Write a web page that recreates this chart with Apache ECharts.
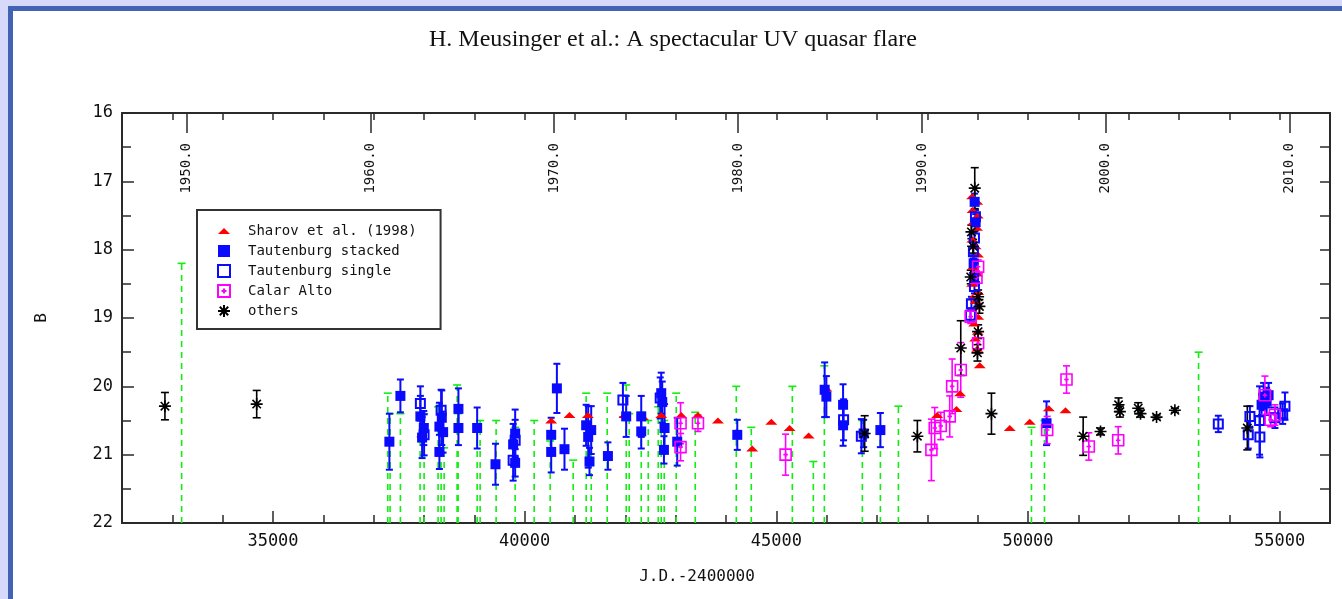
<!DOCTYPE html>
<html><head><meta charset="utf-8">
<script src="https://cdn.jsdelivr.net/npm/echarts@6/dist/echarts.min.js"></script>
<style>html,body{margin:0;padding:0;background:#d7d9fa;overflow:hidden}#c{width:1342px;height:599px}</style>
</head><body><div id="c"></div>
<script>
// ---------- data ----------
const jdMajorLabels = [35000, 40000, 45000, 50000, 55000];
const yearLabels = [1950, 1960, 1970, 1980, 1990, 2000, 2010];

const limitJD = [33185,37280,37326,37531,37922,38002,38280,38340,38400,38658,38678,39056,39115,39433,39811,40189,40507,40964,41222,41322,41640,42018,42077,42316,42455,42654,42713,42773,43011,43389,44204,44502,45318,45735,45954,46709,47067,47425,50069,50327,53389];
const limitB  = [18.2,20.1,20.4,20.4,20.5,20.4,20.3,20.5,20.9,19.98,20.4,20.6,20.5,20.5,20.6,20.5,20.8,21.08,20.1,20.6,20.1,19.98,20.4,20.38,20.5,20.3,20.4,20.5,20.1,20.38,20.0,20.6,20.0,21.1,19.7,20.5,20.6,20.29,20.6,20.5,19.5];

const sharovJD = [40527,40891,41256,41984,42349,42713,43111,43443,43840,44520,44900,45264,45642,45994,48195,48578,48650,49041,49638,50035,50413,50745,
  48890,48990,48900,49000,48910,48985,48895,48960,49005,48905,48990,48890,49010,48900,48985,49010,48930,49000,48960,48950,48990];
const sharovB = [20.5,20.42,20.42,20.42,20.45,20.42,20.42,20.42,20.5,20.91,20.52,20.61,20.72,20.03,20.42,20.33,20.1,19.69,20.61,20.52,20.32,20.35,
  17.22,17.3,17.42,17.5,17.6,17.68,17.85,17.95,18.07,18.25,18.35,18.5,18.62,18.7,18.83,18.98,19.08,19.2,18.75,19.3,19.45];

const stackedJD = [37312,37531,37928,37996,37962,38306,38306,38354,38380,38684,38684,39056,39420,39811,39811,39771,40527,40527,40640,40791,41222,41322,41288,41262,41654,42017,42316,42316,42713,42779,42767,42733,43031,44224,45960,45994,46326,46326,46735,47067,50368,48940,48960,48920,48930,54681,54741,54641,54780];
const stackedB  = [20.81,20.14,20.44,20.61,20.75,20.59,20.96,20.46,20.67,20.33,20.61,20.61,21.14,20.69,21.12,20.85,20.71,20.96,20.03,20.92,20.57,20.64,21.1,20.74,21.02,20.44,20.44,20.66,20.1,20.61,20.93,20.23,20.81,20.71,20.05,20.15,20.27,20.57,20.69,20.64,20.54,17.3,17.6,18.2,18.4,20.15,20.22,20.27,20.13];
const stackedErr= [0.41,0.24,0.3,0.25,0.3,0.35,0.25,0.4,0.3,0.3,0.25,0.3,0.3,0.35,0.2,0.3,0.25,0.3,0.36,0.3,0.3,0.35,0.2,0.45,0.2,0.3,0.3,0.25,0.3,0.35,0.2,0.3,0.35,0.22,0.4,0.3,0.3,0.3,0.2,0.25,0.32,0.12,0.12,0.12,0.12,0.2,0.2,0.15,0.18];

const singleJD = [37928,38002,38340,39771,39811,41952,42693,46336,46689,48956,48936,48916,48936,48876,48856,53781,54409,54376,54607,54601,54906,55105,55060];
const singleB  = [20.25,20.71,20.35,21.08,20.79,20.2,20.17,20.49,20.73,17.52,17.83,18.03,18.54,18.79,18.96,20.55,20.44,20.71,20.74,20.5,20.46,20.29,20.4];
const singleErr= [0.25,0.3,0.3,0.3,0.3,0.25,0.3,0.3,0.25,0.1,0.1,0.1,0.1,0.1,0.1,0.12,0.15,0.2,0.3,0.5,0.15,0.2,0.15];

const calarJD = [43097,43097,43443,45184,48081,48147,48266,48445,48493,48664,49009,48862,49009,48976,50381,50765,51208,51792,54707,54906,54820];
const calarB  = [20.54,20.89,20.54,21.0,20.93,20.61,20.58,20.44,20.0,19.76,19.37,18.98,18.25,18.41,20.64,19.9,20.88,20.79,20.13,20.42,20.49];
const calarErr= [0.3,0.2,0.12,0.3,0.45,0.3,0.2,0.3,0.4,0.4,0.15,0.1,0.1,0.1,0.2,0.2,0.2,0.2,0.28,0.15,0.1];

const othersJD = [32853,34676,46755,47802,48664,49274,48996,48942,48876,48862,49009,49035,49009,48909,51096,51441,51825,51799,52190,52235,52554,52918,54357];
const othersB  = [20.29,20.26,20.69,20.73,19.44,20.4,19.51,17.1,17.74,18.4,18.69,18.83,19.2,17.95,20.73,20.66,20.37,20.27,20.32,20.4,20.45,20.35,20.61];
const othersErr= [0.2,0.2,0.26,0.23,0.4,0.3,0.12,0.3,0.1,0.1,0.1,0.1,0.1,0.1,0.28,0.05,0.08,0.1,0.08,0.05,0.03,0.03,0.32];

// ---------- helpers ----------
const MONO = 'DejaVu Sans Mono';
const BLUE = '#0a0aff', RED = '#ff0000', MAG = '#ff00ff', GREEN = '#11ee11', BLK = '#000000';
const yearJD = yearLabels.map(y => 33282.5 + (y - 1950) * 365.25);
const zip3 = (a, b, c) => a.map((v, i) => [v, b[i], c ? c[i] : 0]);

function errRender(color, lw, cap) {
  return function (params, api) {
    const x = api.value(0), y = api.value(1), e = api.value(2);
    const a = api.coord([x, y - e]), b = api.coord([x, y + e]);
    const st = { stroke: color, lineWidth: lw };
    return { type: 'group', children: [
      { type: 'line', shape: { x1: a[0], y1: a[1], x2: b[0], y2: b[1] }, style: st },
      { type: 'line', shape: { x1: a[0] - cap, y1: a[1], x2: a[0] + cap, y2: a[1] }, style: st },
      { type: 'line', shape: { x1: b[0] - cap, y1: b[1], x2: b[0] + cap, y2: b[1] }, style: st }
    ]};
  };
}
function limitRender(params, api) {
  const x = api.value(0), v = api.value(1);
  const t = api.coord([x, v]), b = api.coord([x, 22]);
  return { type: 'group', children: [
    { type: 'line', shape: { x1: b[0], y1: b[1], x2: t[0], y2: t[1] }, style: { stroke: GREEN, lineWidth: 1.6, lineDash: [6, 5] } },
    { type: 'line', shape: { x1: t[0] - 4, y1: t[1], x2: t[0] + 4, y2: t[1] }, style: { stroke: GREEN, lineWidth: 1.6 } }
  ]};
}
function errSeries(name, data, color, lw, cap) {
  return { type: 'custom', name: name, renderItem: errRender(color, lw, cap), data: data, clip: true, silent: true };
}

const triPath = 'path://M0,6 L6,0 L12,6 Z';
const starPath = 'path://M6,0 L6,12 M0,6 L12,6 M1.8,1.8 L10.2,10.2 M1.8,10.2 L10.2,1.8';
const calarPath = 'path://M0,0 L12,0 L12,12 L0,12 Z M3.5,6 L8.5,6 M6,3.5 L6,8.5';

const axisLineStyle = { color: '#2a2a2a', width: 2 };
const tickStyle = { color: '#2a2a2a', width: 1.5 };

const chart = echarts.init(document.getElementById('c'), null, { renderer: 'canvas' });
chart.setOption({
  animation: false,
  backgroundColor: '#d7d9fa',
  graphic: [
    { type: 'rect', z: -10, shape: { x: 8, y: 6, width: 1400, height: 700 }, style: { fill: '#4262b4' } },
    { type: 'rect', z: -9, shape: { x: 13, y: 11, width: 1400, height: 700 }, style: { fill: '#ffffff' } }
  ],
  title: {
    text: 'H. Meusinger et al.: A spectacular UV quasar flare',
    left: 424, top: 23,
    textStyle: { fontFamily: 'Liberation Serif', fontWeight: 'normal', fontSize: 24, color: '#111' }
  },
  legend: {
    orient: 'vertical', left: 197, top: 210,
    borderColor: '#333', borderWidth: 2, backgroundColor: '#fff',
    padding: [14, 24, 11, 20], itemGap: 6, itemWidth: 12, itemHeight: 12,
    textStyle: { fontFamily: MONO, fontSize: 14, lineHeight: 14, color: '#111', padding: [0, 0, 0, 13] },
    selectedMode: false,
    data: ['Sharov et al. (1998)', 'Tautenburg stacked', 'Tautenburg single', 'Calar Alto', 'others']
  },
  grid: { left: 122, right: 12, top: 113, bottom: 76 },
  xAxis: [
    { type: 'value', position: 'bottom', min: 32000, max: 56000, interval: 1000,
      name: 'J.D.-2400000', nameLocation: 'middle', nameGap: 46,
      nameTextStyle: { fontFamily: MONO, fontSize: 16, color: '#111', padding: [0, 58, 0, 0] },
      axisLine: { lineStyle: axisLineStyle }, splitLine: { show: false },
      axisTick: { inside: true, length: 8, lineStyle: tickStyle },
      axisLabel: { customValues: jdMajorLabels, formatter: v => String(v), fontFamily: MONO, fontSize: 17, color: '#111', margin: 10 } },
    { type: 'value', position: 'bottom', min: 32000, max: 56000, interval: 1000,
      axisLine: { show: false }, splitLine: { show: false },
      axisTick: { inside: true, length: 12, customValues: jdMajorLabels, lineStyle: tickStyle },
      axisLabel: { show: false } },
    { type: 'value', position: 'top', min: 32000, max: 56000, interval: 1000,
      axisLine: { lineStyle: axisLineStyle }, splitLine: { show: false },
      axisTick: { inside: true, length: 7, lineStyle: tickStyle },
      axisLabel: { show: false } },
    { type: 'value', position: 'top', min: 32000, max: 56000, interval: 1000,
      axisLine: { show: false }, splitLine: { show: false },
      axisTick: { inside: true, length: 20, customValues: yearJD, lineStyle: tickStyle },
      axisLabel: { customValues: yearJD, inside: true, rotate: -90, margin: 30, fontFamily: MONO, fontSize: 14, color: '#111',
        formatter: v => (1950 + (v - 33282.5) / 365.25).toFixed(1) } }
  ],
  yAxis: [
    { type: 'value', position: 'left', inverse: true, min: 16, max: 22, interval: 1,
      name: 'B', nameLocation: 'middle', nameGap: 72, nameRotate: 90,
      nameTextStyle: { fontFamily: MONO, fontSize: 16, color: '#111' },
      axisLine: { lineStyle: axisLineStyle }, splitLine: { show: false },
      axisTick: { inside: true, length: 12, lineStyle: tickStyle },
      minorTick: { show: true, splitNumber: 2, length: 9, lineStyle: tickStyle },
      minorSplitLine: { show: false },
      axisLabel: { fontFamily: MONO, fontSize: 17, color: '#111', margin: 9 } },
    { type: 'value', position: 'right', inverse: true, min: 16, max: 22, interval: 1,
      axisLine: { lineStyle: axisLineStyle }, splitLine: { show: false },
      axisTick: { inside: true, length: 10, lineStyle: tickStyle },
      minorTick: { show: true, splitNumber: 2, length: 10, lineStyle: tickStyle },
      axisLabel: { show: false } }
  ],
  series: [
    { type: 'custom', name: 'limits', renderItem: limitRender, data: zip3(limitJD, limitB), clip: true, silent: true },
    { type: 'scatter', name: 'Sharov et al. (1998)', symbol: triPath, symbolSize: [12, 6],
      itemStyle: { color: RED, opacity: 1 }, data: zip3(sharovJD, sharovB) },
    errSeries('e1', zip3(stackedJD, stackedB, stackedErr), BLUE, 2, 3.5),
    { type: 'scatter', name: 'Tautenburg stacked', symbol: 'rect', symbolSize: 10,
      itemStyle: { color: BLUE, opacity: 1 }, data: zip3(stackedJD, stackedB) },
    errSeries('e2', zip3(singleJD, singleB, singleErr), BLUE, 2, 3.5),
    { type: 'scatter', name: 'Tautenburg single', symbol: 'rect', symbolSize: 9,
      itemStyle: { color: 'rgba(255,255,255,0)', borderColor: BLUE, borderWidth: 2, opacity: 1 }, data: zip3(singleJD, singleB) },
    errSeries('e3', zip3(calarJD, calarB, calarErr), MAG, 1.6, 3.5),
    { type: 'scatter', name: 'Calar Alto', symbol: calarPath, symbolSize: 11,
      itemStyle: { color: 'rgba(255,255,255,0)', borderColor: MAG, borderWidth: 1.6, opacity: 1 }, data: zip3(calarJD, calarB) },
    errSeries('e4', zip3(othersJD, othersB, othersErr), BLK, 1.6, 4),
    { type: 'scatter', name: 'others', symbol: starPath, symbolSize: 12,
      itemStyle: { color: 'rgba(0,0,0,0)', borderColor: BLK, borderWidth: 1.6, opacity: 1 }, data: zip3(othersJD, othersB) }
  ]
});
</script></body></html>
